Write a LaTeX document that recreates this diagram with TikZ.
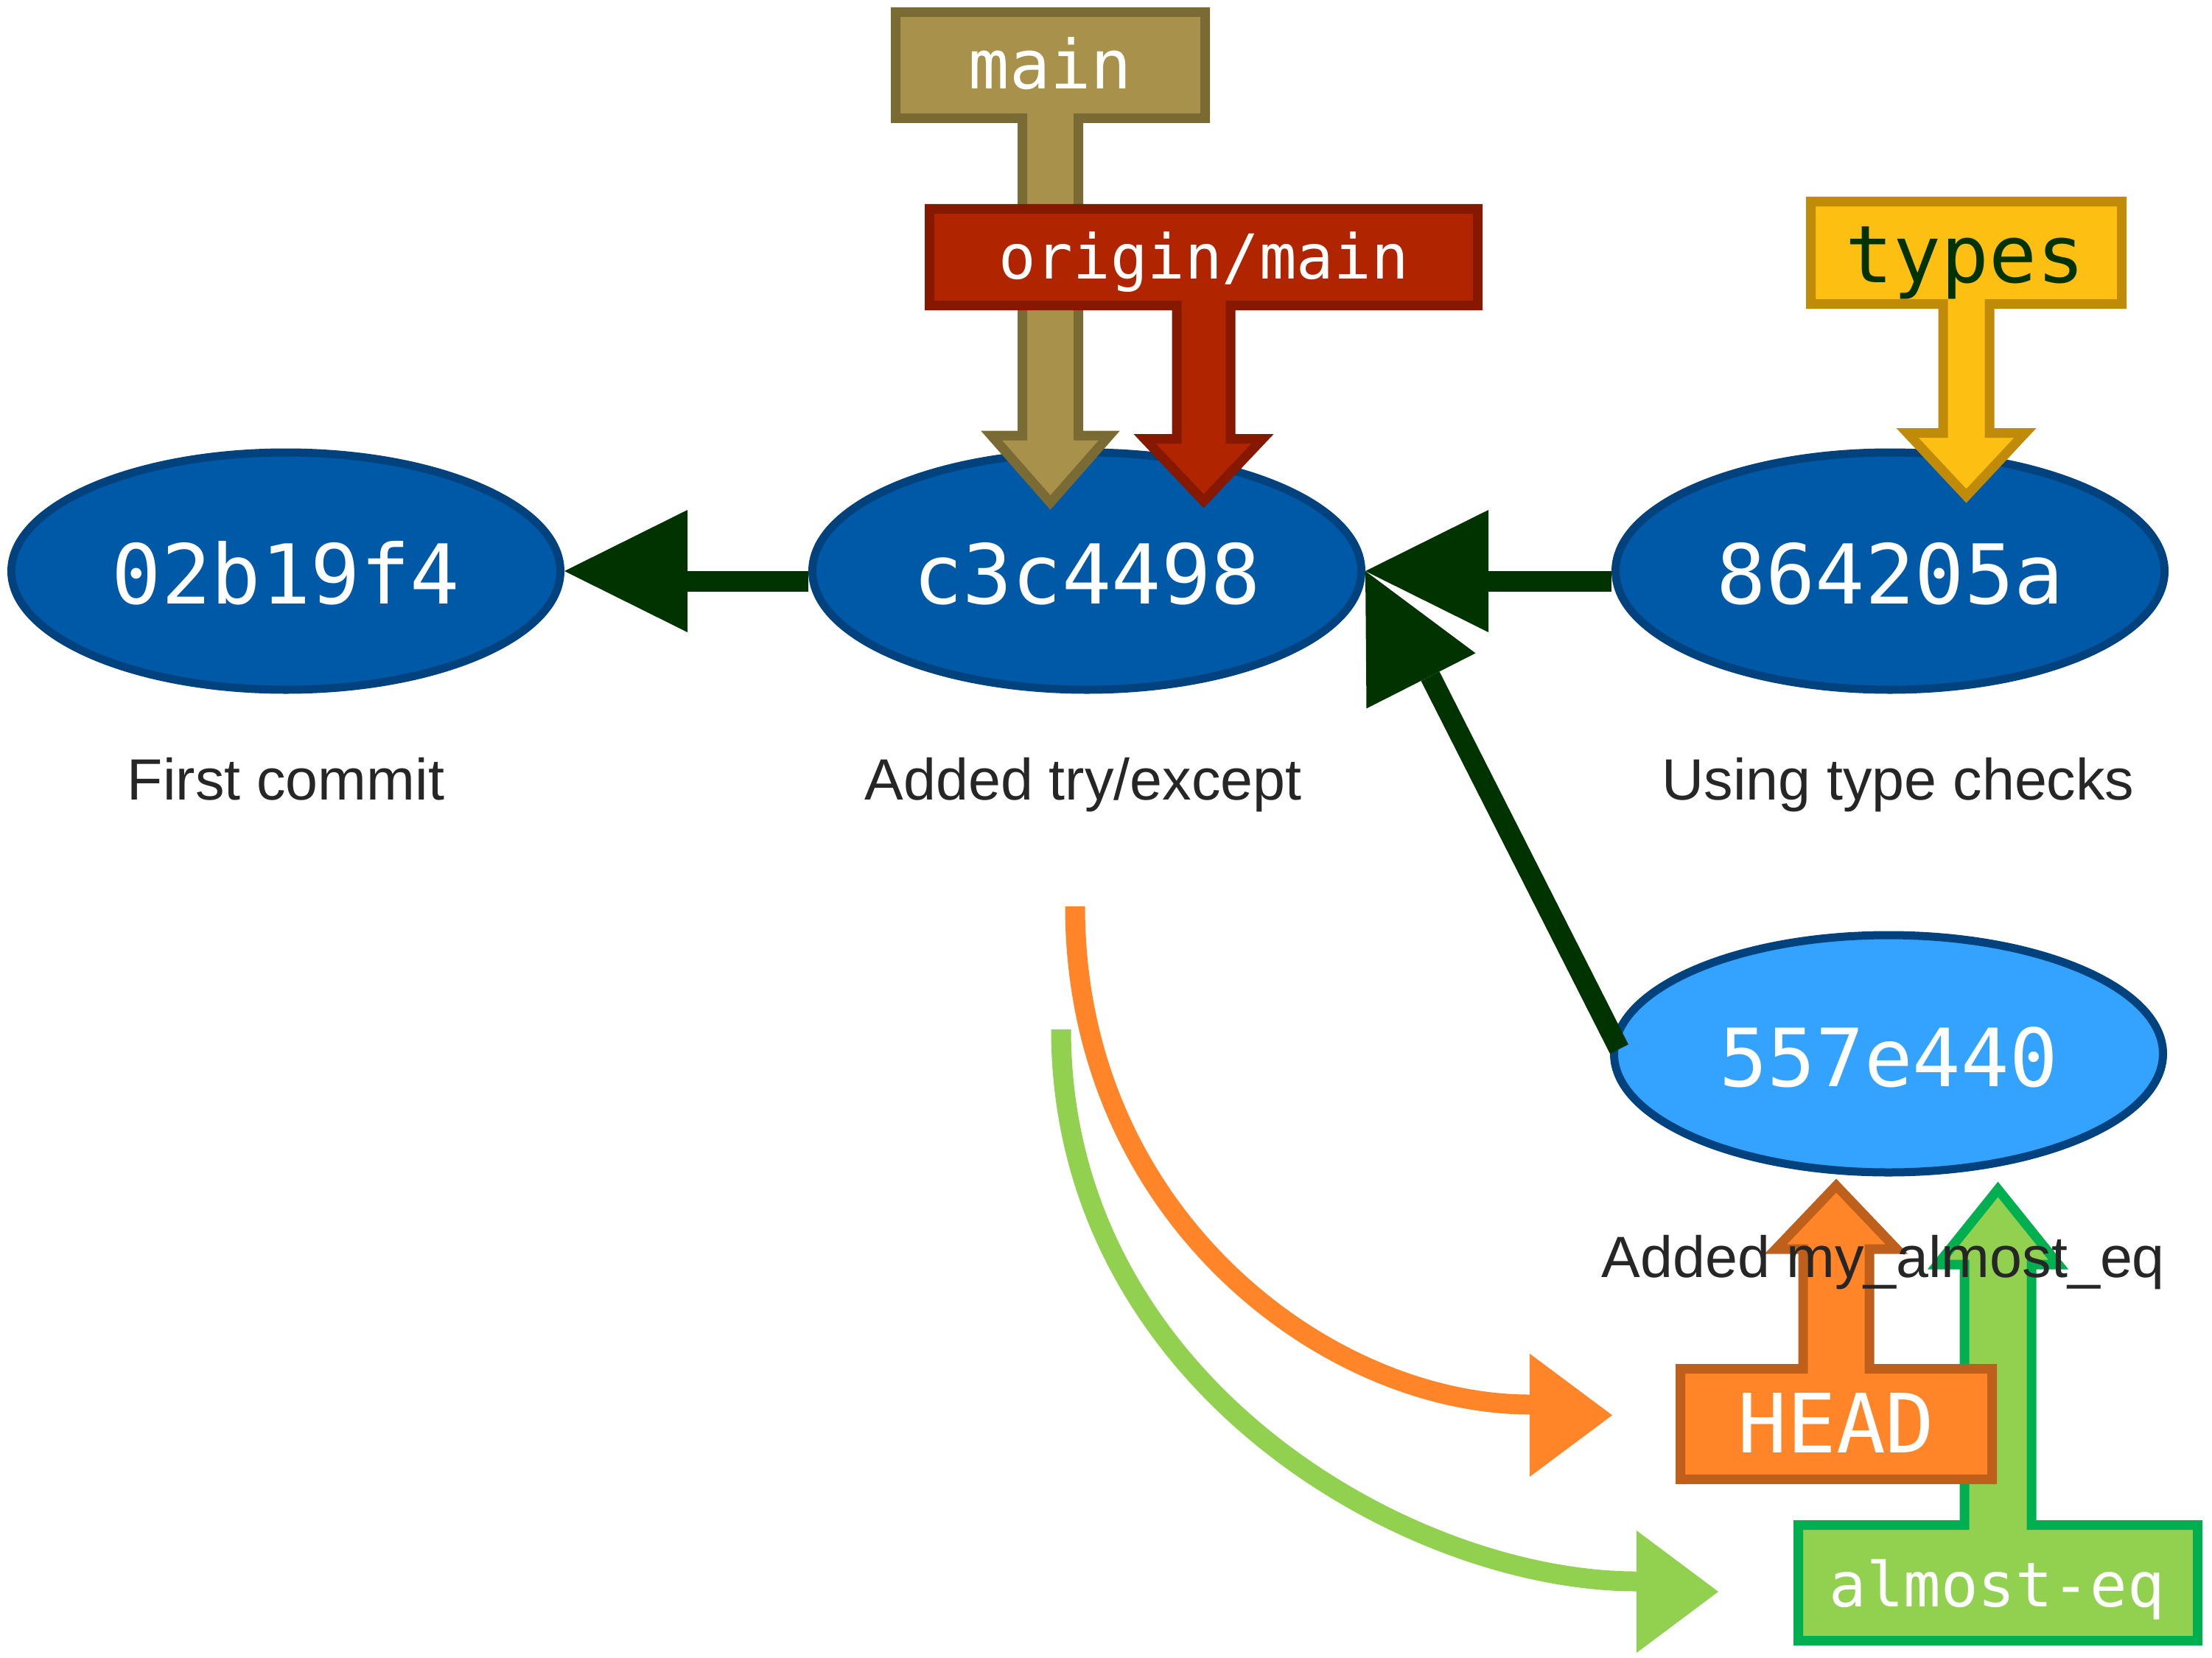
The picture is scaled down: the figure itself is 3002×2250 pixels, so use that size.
\documentclass[tikz,border=0pt]{standalone}
\usepackage{fontspec}
\newfontfamily\hashmono{DejaVu Sans Mono}
\newfontfamily\descsans{Liberation Sans}
\usetikzlibrary{shapes.geometric,calc}
\definecolor{ellfill}{HTML}{0059A7}
\definecolor{ellfilltwo}{HTML}{33A3FF}
\definecolor{ellborder}{HTML}{00427D}
\definecolor{dkgreen}{HTML}{003300}
\definecolor{descgray}{HTML}{262626}
\definecolor{mainfill}{HTML}{A8914A}
\definecolor{mainborder}{HTML}{7A6A33}
\definecolor{origfill}{HTML}{B02400}
\definecolor{origborder}{HTML}{861800}
\definecolor{typesfill}{HTML}{FDBF12}
\definecolor{typesborder}{HTML}{BF8B09}
\definecolor{headfill}{HTML}{FF8528}
\definecolor{headborder}{HTML}{BE5F1C}
\definecolor{almostfill}{HTML}{92D050}
\definecolor{almostborder}{HTML}{00B050}
\begin{document}
\begin{tikzpicture}[x=1pt,y=-1pt,
  commit/.style={ellipse, draw=ellborder, fill=ellfill, line width=11pt,
    minimum width=745pt, minimum height=322pt, inner sep=0pt, text=white,
    font={\hashmono\fontsize{112}{134}\selectfont}, text height=88pt, text depth=0pt},
  desc/.style={font={\descsans\fontsize{79}{95}\selectfont}, text=descgray, anchor=base, inner sep=0pt},
  brtext/.style={anchor=base, inner sep=0pt},
  dkline/.style={draw=dkgreen, line width=28pt, line cap=butt},
  brshape/.style={line width=13pt, line join=miter},
  curveline/.style={line width=27pt, line cap=butt}
]
\fill[white] (0,0) rectangle (3002,2250);
\useasboundingbox (0,0) rectangle (3002,2250);

% commits
\node[commit] (c1) at (388,775) {02b19f4};
\node[commit] (c2) at (1475,775) {c3c4498};
\node[commit] (c3) at (2565,775) {864205a};
\node[commit, fill=ellfilltwo, font={\hashmono\fontsize{109}{130}\selectfont}] (c4) at (2563,1430) {557e440};

% parent connectors
\fill[dkgreen] (c1.east) -- ++(167,-83) -- ++(0,166) -- cycle;
\draw[dkline] ($(c1.east)+(167,14)$) -- ($(c2.west)+(0,14)$);
\fill[dkgreen] (c2.east) -- ++(167,-83) -- ++(0,166) -- cycle;
\draw[dkline] ($(c2.east)+(167,14)$) -- ($(c3.west)+(0,14)$);
\coordinate (dm) at ($(c2.east)!167pt!(c4.west)$);
\fill[dkgreen] (c2.east) -- ($(dm)!83pt!90:(c4.west)$) -- ($(dm)!83pt!-90:(c4.west)$) -- cycle;
\draw[dkline] ($(dm)!14pt!90:(c4.west)$) -- ($(c4.west)!14pt!-90:(dm)$);

% commit messages
\node[desc] (d1) at (388,1085) {First commit};
\node[desc] (d2) at (1470,1085) {Added try/except};
\node[desc] (d3) at (2576,1085) {Using type checks};

% main
\draw[brshape, fill=mainfill, draw=mainborder]
  (1215.5,16.5) -- (1635.5,16.5) -- (1635.5,160.5) -- (1463.5,160.5) -- (1463.5,591)
  -- (1505.5,591) -- (1425.5,682) -- (1345.5,591) -- (1387.5,591) -- (1387.5,160.5)
  -- (1215.5,160.5) -- cycle;
\node[brtext, text=white, font={\hashmono\fontsize{92}{110}\selectfont}] (bmain) at (1425.5,121) {main};

% origin/main
\draw[brshape, fill=origfill, draw=origborder]
  (1261.5,283.5) -- (2005.5,283.5) -- (2005.5,414.5) -- (1670,414.5) -- (1670,595.5)
  -- (1713.5,595.5) -- (1633.5,680) -- (1553.5,595.5) -- (1597,595.5) -- (1597,414.5)
  -- (1261.5,414.5) -- cycle;
\node[brtext, text=white, font={\hashmono\fontsize{84}{100}\selectfont}] (borigin) at (1633.5,378) {origin/main};

% types
\draw[brshape, fill=typesfill, draw=typesborder]
  (2457.5,273.5) -- (2879.5,273.5) -- (2879.5,412.5) -- (2700,412.5) -- (2700,587.5)
  -- (2748.5,587.5) -- (2668.5,673) -- (2588.5,587.5) -- (2637,587.5) -- (2637,412.5)
  -- (2457.5,412.5) -- cycle;
\node[brtext, text=dkgreen, font={\hashmono\fontsize{108}{130}\selectfont}] (btypes) at (2667,383) {types};

% curved pointers
\coordinate (ostart) at (1459,1230);
\coordinate (otip) at (2188,1920.5);
\coordinate (oend) at ($(otip)+(-112,-14.5)$);
\draw[curveline, draw=headfill] (ostart) .. controls +(0,420) and +(-275,0) .. (oend);
\fill[headfill] (otip) -- ++(-112,-83.5) -- ++(0,167) -- cycle;

\coordinate (gstart) at (1440,1397);
\coordinate (gtip) at (2332,2160);
\coordinate (gend) at ($(gtip)+(-111,-14)$);
\draw[curveline, draw=almostfill] (gstart) .. controls +(0,480) and +(-310,0) .. (gend);
\fill[almostfill] (gtip) -- ++(-111,-83) -- ++(0,166) -- cycle;

% almost-eq
\draw[brshape, fill=almostfill, draw=almostborder]
  (2440.5,2226.5) -- (2982.5,2226.5) -- (2982.5,2069.5) -- (2757,2069.5) -- (2757,1716)
  -- (2793.5,1716) -- (2711.5,1614) -- (2629.5,1716) -- (2666,1716) -- (2666,2069.5)
  -- (2440.5,2069.5) -- cycle;
\node[brtext, text=white, font={\hashmono\fontsize{84}{100}\selectfont}] (balmost) at (2710,2180) {almost-eq};

% HEAD
\draw[brshape, fill=headfill, draw=headborder]
  (2280.5,2007.5) -- (2703.5,2007.5) -- (2703.5,1857.5) -- (2537,1857.5) -- (2537,1695)
  -- (2574,1695) -- (2492,1609) -- (2410,1695) -- (2447,1695) -- (2447,1857.5)
  -- (2280.5,1857.5) -- cycle;
\node[brtext, text=white, font={\hashmono\fontsize{111}{133}\selectfont}] (bhead) at (2492,1971) {HEAD};

\node[desc] (d4) at (2556,1733) {Added my\_almost\_eq};
\end{tikzpicture}
\end{document}
